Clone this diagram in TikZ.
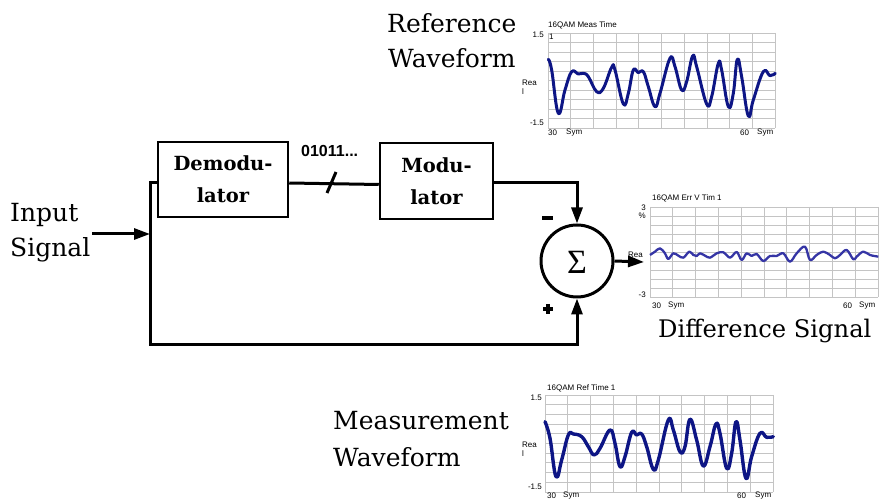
\documentclass[tikz,border=0pt]{standalone}
\usepackage{fontspec}
\setmainfont{DejaVu Serif}
\newfontfamily\plotfont{Liberation Sans}
\newfontfamily\sigfont{Liberation Serif}
\usetikzlibrary{arrows.meta,calc}
\definecolor{wave}{HTML}{0D1585}
\definecolor{errwave}{HTML}{3535A5}
\definecolor{gridc}{HTML}{C4C4C4}
\tikzset{
  wire/.style={line width=3pt},
  tip/.style={-{Triangle[length=16pt,width=11pt]}},
  blk/.style={draw, line width=2.5pt, align=center, inner sep=0pt,
    font=\bfseries\fontsize{19.5}{32}\selectfont},
  big/.style={inner sep=0pt, anchor=base west, font=\fontsize{25}{28}\selectfont},
  pl/.style={inner sep=0pt, font=\plotfont\fontsize{8}{9}\selectfont},
  gridline/.style={gridc, line width=0.8pt},
  wv/.style={wave, line width=3pt, line join=round, line cap=round},
}
\newcommand{\plotgrid}[4]{%
  \foreach \i in {0,...,10}{
    \draw[gridline] ({#1+(#3-#1)*\i/10},#2) -- ({#1+(#3-#1)*\i/10},#4);
    \draw[gridline] (#1,{#2+(#4-#2)*\i/10}) -- (#3,{#2+(#4-#2)*\i/10});
  }}
\begin{document}
\begin{tikzpicture}[x=1pt,y=-1pt]
\useasboundingbox (0,0) rectangle (879,502);

% ---------- block diagram ----------
\node[blk, minimum width=130pt, minimum height=75pt] (demod) at (223,179.5) {Demodu-\\lator};
\node[blk, minimum width=113pt, minimum height=76pt] (mod) at (436.5,181) {Modu-\\lator};
\node[draw, circle, line width=3pt, minimum size=72pt, inner sep=0pt] (sum) at (577,261) {};
\node[inner sep=0pt, font=\sigfont\fontsize{34}{34}\selectfont] (sigma) at (577,262) {Σ};

\node[inner sep=0pt, anchor=base west, font=\plotfont\bfseries\fontsize{16}{18}\selectfont] (bits) at (301,157) {01011...};

\coordinate (tl) at (150,183);
\coordinate (bl) at (150,345);
\coordinate (inj) at (150,234);
\coordinate (instart) at (92,234);
\coordinate (outend) at (644,262);
\coordinate (s1) at (327,193);
\coordinate (s2) at (336,172);

\draw[wire] ([yshift=-3.5pt]demod.east) -- ([yshift=-3.5pt]mod.west);
\draw[wire] (s1) -- (s2);
\draw[wire, tip] ([yshift=-2pt]mod.east) -| (sum.north);
\draw[wire, tip] ([yshift=-3.5pt]demod.west) -- (tl) -- (bl) -| (sum.south);
\draw[wire, tip] (instart) -- (inj);

% signs
\draw[line width=3.5pt] (542,218) -- (553,218);
\draw[line width=3.5pt] (543,309) -- (553,309) (548,304) -- (548,314);

% ---------- big labels ----------
\node[big] (in1) at (10,222) {Input};
\node[big] (in2) at (10,257) {Signal};
\node[big] (ref1) at (387,33) {Reference};
\node[big] (ref2) at (388,68) {Waveform};
\node[big] (meas1) at (333,430) {Measurement};
\node[big] (meas2) at (333,467) {Waveform};
\node[big, font=\fontsize{24.2}{28}\selectfont] (diff) at (658,338) {Difference Signal};

% ---------- plot 1 : reference ----------
\plotgrid{548}{33}{775}{128}
\node[pl, anchor=base west] (t1) at (548,28) {16QAM Meas Time};
\node[pl, anchor=east] (a1) at (544,35) {1.5};
\node[pl, anchor=west] (b1) at (549,37) {1};
\node[pl, anchor=west, align=left] (r1) at (522,87) {Rea\\l};
\node[pl, anchor=east] (c1) at (544,123) {-1.5};
\node[pl, anchor=west] (d1) at (548,133) {30};
\node[pl, anchor=west] (e1) at (566,133) {Sym};
\node[pl, anchor=west] (f1) at (740,133) {60};
\node[pl, anchor=west] (g1) at (757,133) {Sym};
\begin{scope}[shift={(500,10)}, x=0.3333pt, y=-0.3333pt]
\draw[wv] plot[smooth, tension=0.7] coordinates {
(145,148) (155,180) (175,310) (195,240) (215,185) (235,192) (250,190) (265,200)
(290,245) (310,235) (335,172) (345,180) (370,282) (385,250) (400,180) (415,188)
(430,185) (445,230) (465,290) (480,250) (510,145) (525,170) (545,240) (560,215)
(578,138) (590,170) (620,282) (635,260) (655,160) (665,180) (685,290) (700,250)
(712,148) (725,200) (745,318) (760,270) (790,185) (810,197) (826,190)};
\end{scope}

% ---------- plot 2 : difference ----------
\plotgrid{650}{207}{878}{297}
\node[pl, anchor=base west] (t2) at (652,201) {16QAM Err V Tim 1};
\node[pl, anchor=east] (a2) at (646,208) {3};
\node[pl, anchor=east] (p2) at (646,216) {\%};
\node[pl, anchor=west, align=left] (r2) at (628,259) {Rea\\l};
\node[pl, anchor=east] (c2) at (646,295) {-3};
\node[pl, anchor=west] (d2) at (652,306) {30};
\node[pl, anchor=west] (e2) at (668,306) {Sym};
\node[pl, anchor=west] (f2) at (843,306) {60};
\node[pl, anchor=west] (g2) at (859,306) {Sym};
\begin{scope}[shift={(600,190)}, x=0.3333pt, y=-0.3333pt]
\draw[errwave, line width=2.3pt, line join=round] plot[smooth, tension=0.6] coordinates {
(150,195) (165,185) (180,175) (195,190) (205,207) (220,190) (235,197) (250,203)
(268,185) (280,195) (290,198) (300,190) (315,197) (330,203) (350,190) (370,187)
(390,203) (410,186) (425,210) (440,190) (455,198) (470,192) (490,213) (510,198)
(530,198) (550,190) (570,215) (590,190) (615,170) (630,210) (650,195) (670,185)
(690,195) (705,205) (720,195) (740,180) (760,208) (770,200) (790,185) (810,195)
(835,200)};
\end{scope}
\draw[wire, tip] (sum.east) -- (outend);

% ---------- plot 3 : measurement ----------
\plotgrid{545}{395}{773}{492}
\node[pl, anchor=base west] (t3) at (547,391) {16QAM Ref Time 1};
\node[pl, anchor=east] (a3) at (542,398) {1.5};
\node[pl, anchor=west, align=left] (r3) at (522,449) {Rea\\l};
\node[pl, anchor=east] (c3) at (542,487) {-1.5};
\node[pl, anchor=west] (d3) at (547,496) {30};
\node[pl, anchor=west] (e3) at (563,496) {Sym};
\node[pl, anchor=west] (f3) at (737,496) {60};
\node[pl, anchor=west] (g3) at (755,496) {Sym};
\begin{scope}[shift={(500,380)}, x=0.3333pt, y=-0.3333pt]
\draw[wv, line width=3.4pt] plot[smooth, tension=0.7] coordinates {
(135,125) (150,175) (168,290) (185,240) (205,165) (220,162) (245,170) (265,200)
(282,225) (300,205) (330,150) (345,190) (360,260) (375,230) (395,157) (410,165)
(425,162) (440,200) (460,268) (475,240) (505,120) (520,150) (540,215) (555,200)
(570,118) (590,180) (610,258) (630,200) (648,132) (660,160) (680,265) (695,220)
(708,125) (720,180) (738,295) (755,230) (780,160) (800,172) (820,170)};
\end{scope}
\end{tikzpicture}
\end{document}
